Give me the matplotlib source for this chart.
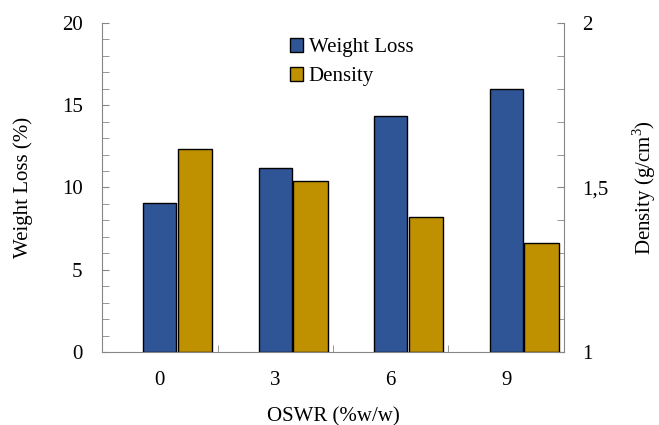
import numpy as np
import matplotlib
matplotlib.use("Agg")
import matplotlib.pyplot as plt
from matplotlib.ticker import MultipleLocator, FuncFormatter

plt.rcParams['font.family'] = ['Liberation Serif', 'DejaVu Serif']
plt.rcParams['mathtext.fontset'] = 'custom'
plt.rcParams['mathtext.rm'] = 'Liberation Serif'

oswr = ['0', '3', '6', '9']
weight_loss = [9.05, 11.2, 14.35, 16.0]
density = [1.616, 1.52, 1.41, 1.33]

blue = '#2F5597'
gold = '#BF9000'
grey = '#868686'

fig = plt.figure(figsize=(6.59, 4.25), dpi=100)
ax = fig.add_axes([0.1548, 0.1718, 0.701, 0.7741])
ax2 = ax.twinx()

x = np.arange(len(oswr))
ax.bar(x, weight_loss, width=0.285, color=blue, edgecolor='black', linewidth=1.0, label='Weight Loss', zorder=3)
ax2.bar(x + 0.305, np.array(density) - 1, bottom=1, width=0.3, color=gold, edgecolor='black',
        linewidth=1.0, label='Density', zorder=3)

ax.set_xlim(-0.5, 3.5)
ax.set_ylim(0, 20)
ax2.set_ylim(1, 2)

ax.set_xticks(x)
ax.set_xticklabels(oswr)
ax.set_xticks(np.arange(-0.5, 4, 1), minor=True)
ax.yaxis.set_major_locator(MultipleLocator(5))
ax.yaxis.set_minor_locator(MultipleLocator(1))
ax2.yaxis.set_major_locator(MultipleLocator(0.5))
ax2.yaxis.set_minor_locator(MultipleLocator(0.1))
ax2.yaxis.set_major_formatter(FuncFormatter(lambda v, p: ('%g' % v).replace('.', ',')))

for a in (ax, ax2):
    for s in a.spines.values():
        s.set_color(grey)
    a.spines['top'].set_visible(False)
ax.spines['right'].set_visible(False)
ax2.spines['left'].set_visible(False)
ax2.spines['bottom'].set_visible(False)

ax.tick_params(axis='x', which='major', length=0, pad=14, labelsize=15)
ax.tick_params(axis='x', which='minor', direction='in', length=5, color=grey)
ax.tick_params(axis='y', which='both', direction='in', length=5, color=grey, pad=14, labelsize=15)
ax2.tick_params(axis='y', which='both', direction='in', length=5, color=grey, pad=13, labelsize=15)

ax.set_xlabel('OSWR (%w/w)', fontsize=15, labelpad=12)
ax.set_ylabel('Weight Loss (%)', fontsize=15, labelpad=21)
ax2.set_ylabel('Density (g/cm$^{\\mathregular{3}}$)', fontsize=15, labelpad=16)

h1, l1 = ax.get_legend_handles_labels()
h2, l2 = ax2.get_legend_handles_labels()
fig.legend(h1 + h2, l1 + l2, loc='upper left', bbox_to_anchor=(0.424, 0.935), frameon=False,
           fontsize=15, handlelength=0.65, handleheight=0.65, handletextpad=0.25, labelspacing=0.45,
           borderpad=0)

fig.savefig('out.png', dpi=100)
